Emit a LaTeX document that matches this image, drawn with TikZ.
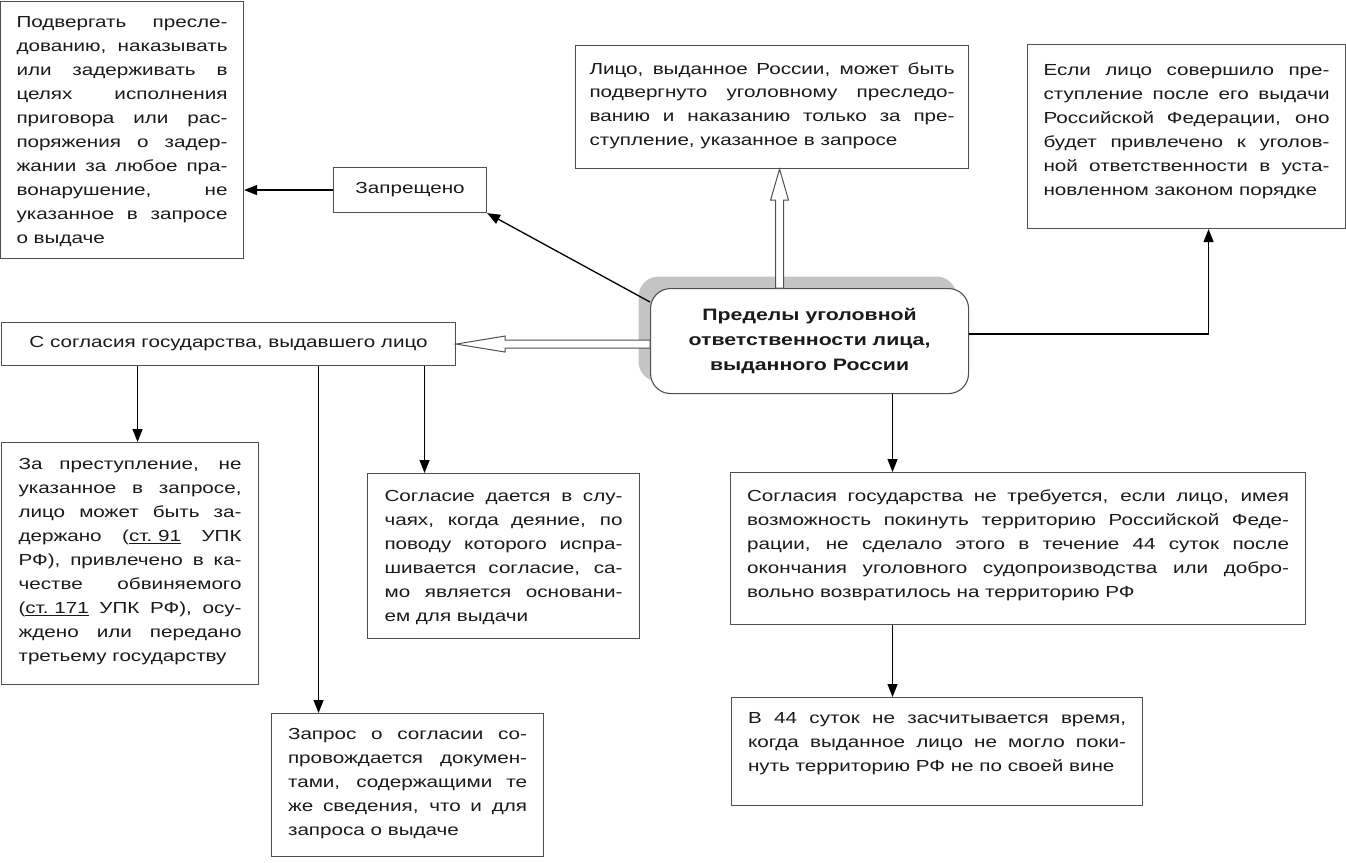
\documentclass[tikz,border=0pt]{standalone}
\usepackage{fontspec}
\setmainfont{Liberation Sans}[FakeStretch=1.29]
\usetikzlibrary{arrows.meta,calc}
\definecolor{bd}{HTML}{505050}
\definecolor{txt}{HTML}{1A1A1A}
\definecolor{shgray}{HTML}{C4C4C4}
\newcommand\jl[1]{\hbox to \hsize{#1}}
\newcommand\el[1]{\hbox{#1}}
\newcommand\tb[4]{\parbox[c][#1][t]{#2}{\fontsize{16}{24}\selectfont\vspace*{#3}#4}}
\begin{document}
\begin{tikzpicture}[x=1pt,y=-1pt,
  tbox/.style={draw=bd, line width=1.1pt, anchor=north west, inner ysep=0pt, fill=white, text=txt},
  sbox/.style={draw=bd, line width=1.1pt, anchor=north west, inner sep=0pt, fill=white, text=txt, font=\fontsize{16}{24}\selectfont},
  arr/.style={draw=black, line width=1.3pt, -{Triangle[length=13pt,width=10pt]}},
  hollow/.style={draw=bd, line width=1pt, fill=white, line join=miter}]
\useasboundingbox (0,0) rectangle (1346,862);

% top-left
\node[tbox, inner xsep=16pt] (tl) at (0,1) {\tb{257pt}{211pt}{15pt}{
\jl{Подвергать пресле-}
\jl{дованию, наказывать}
\jl{или задерживать в}
\jl{целях исполнения}
\jl{приговора или рас-}
\jl{поряжения о задер-}
\jl{жании за любое пра-}
\jl{вонарушение, не}
\jl{указанное в запросе}
\el{о выдаче}}};

% Запрещено
\node[sbox, minimum width=153pt, minimum height=45pt] (zp) at (333,167) {Запрещено};

% top center
\node[tbox, inner xsep=14pt] (tc) at (575,45) {\tb{123pt}{365pt}{17pt}{\baselineskip=23.7pt
\jl{Лицо, выданное России, может быть}
\jl{подвергнуто уголовному преследо-}
\jl{ванию и наказанию только за пре-}
\el{ступление, указанное в запросе}}};

% top right
\node[tbox, inner xsep=16pt] (tr) at (1027,44) {\tb{184pt}{286pt}{20pt}{
\jl{Если лицо совершило пре-}
\jl{ступление после его выдачи}
\jl{Российской Федерации, оно}
\jl{будет привлечено к уголов-}
\jl{ной ответственности в уста-}
\el{новленном законом порядке}}};

% center
\node[draw=bd, line width=1.1pt, rounded corners=20pt, fill=white, text=txt,
  minimum width=318pt, minimum height=105pt, anchor=north west, align=center,
  font=\fontsize{16.5}{25}\selectfont\bfseries,
  preaction={fill=shgray, draw=none, transform canvas={shift={(-12pt,12pt)}}}] (cc) at (650,288)
  {Пределы уголовной\\ответственности лица,\\выданного России};

% С согласия
\node[sbox, minimum width=454pt, minimum height=43pt] (cs) at (1,322) {С согласия государства, выдавшего лицо};

% lower left
\node[tbox, inner xsep=17pt] (ll) at (1,442) {\tb{242pt}{223pt}{16pt}{
\jl{За преступление, не}
\jl{указанное в запросе,}
\jl{лицо может быть за-}
\jl{держано (\underline{ст.~91} УПК}
\jl{РФ), привлечено в ка-}
\jl{честве обвиняемого}
\jl{(\underline{ст.~171} УПК РФ), осу-}
\jl{ждено или передано}
\el{третьему государству}}};

% middle
\node[tbox, inner xsep=17pt] (md) at (367,473) {\tb{165pt}{238pt}{17pt}{
\jl{Согласие дается в слу-}
\jl{чаях, когда деяние, по}
\jl{поводу которого испра-}
\jl{шивается согласие, са-}
\jl{мо является основани-}
\el{ем для выдачи}}};

% bottom middle
\node[tbox, inner xsep=16.5pt] (bm) at (271,713) {\tb{143pt}{239pt}{15pt}{
\jl{Запрос о согласии со-}
\jl{провождается докумен-}
\jl{тами, содержащими те}
\jl{же сведения, что и для}
\el{запроса о выдаче}}};

% right
\node[tbox, inner xsep=16.5pt] (rb) at (730,472) {\tb{152pt}{542pt}{17pt}{
\jl{Согласия государства не требуется, если лицо, имея}
\jl{возможность покинуть территорию Российской Феде-}
\jl{рации, не сделало этого в течение 44 суток после}
\jl{окончания уголовного судопроизводства или добро-}
\el{вольно возвратилось на территорию РФ}}};

% bottom right
\node[tbox, inner xsep=16.5pt] (br) at (731,697) {\tb{108pt}{378pt}{15pt}{
\jl{В 44 суток не засчитывается время,}
\jl{когда выданное лицо не могло поки-}
\el{нуть территорию РФ не по своей вине}}};

% connectors
\draw[arr] (zp.west) -- (zp.west -| tl.east);
\draw[arr] ($(cc.north west)+(0,14)$) -- (zp.south east);
\draw[arr] ($(cc.east)+(0,-7)$) -| ($(tr.south)+(22,0)$);

\coordinate (d1) at ($(cc.south)+(83,0)$);
\draw[arr] (d1) -- (d1 |- rb.north);
\coordinate (d2) at (rb.south -| d1);
\draw[arr] (d2) -- (d2 |- br.north);

\coordinate (a1) at ($(cs.south)+(-91,0)$);
\coordinate (a2) at ($(cs.south)+(90,0)$);
\coordinate (a3) at ($(cs.south)+(196,0)$);
\draw[arr] (a1) -- (a1 |- ll.north);
\draw[arr] (a2) -- (a2 |- bm.north);
\draw[arr] (a3) -- (a3 |- md.north);

% hollow arrows
\coordinate (T) at (cs.east);
\coordinate (L) at (cc.west |- cs.east);
\draw[hollow] (T) -- ($(T)+(49,-8)$) -- ($(T)+(49,-4)$) -- ($(L)+(0,-4)$) -- ($(L)+(0,4)$) -- ($(T)+(49,4)$) -- ($(T)+(49,8)$) -- cycle;

\coordinate (B) at ($(cc.north)+(-30,0)$);
\coordinate (U) at (B |- tc.south);
\draw[hollow] (U) -- ($(U)+(-9,31)$) -- ($(U)+(-4,31)$) -- ($(B)+(-4,0)$) -- ($(B)+(4,0)$) -- ($(U)+(4,31)$) -- ($(U)+(9,31)$) -- cycle;
\end{tikzpicture}
\end{document}
